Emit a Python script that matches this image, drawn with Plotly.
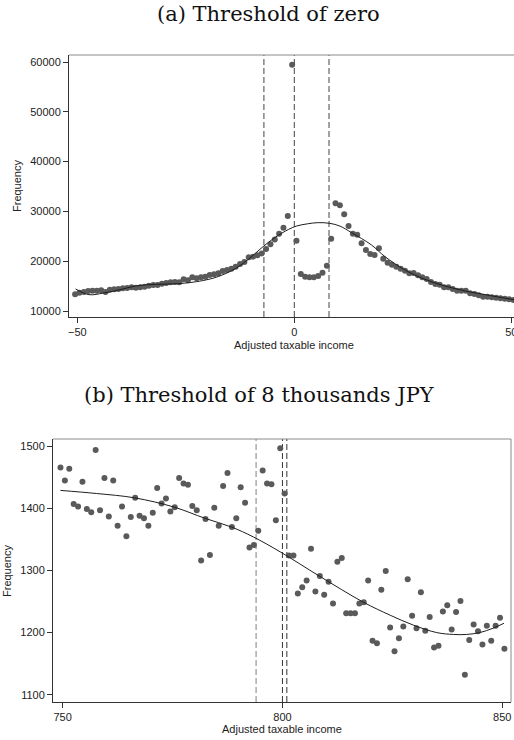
import plotly.graph_objects as go

# ---------------- Data: panel (a) ----------------
top_bins = [-50.5 + i for i in range(102)]
top_freq = [13350, 13680, 13820, 14020, 14080, 14080, 14150, 13820, 14280, 14350,
            14420, 14550, 14620, 14750, 14680, 14750, 14890, 15090, 15220, 15220,
            15490, 15620, 15760, 15820, 15760, 16360, 16160, 16760, 16560, 16760,
            16890, 17220, 17360, 17560, 18030, 18230, 18500, 18900, 19430, 19830,
            20770, 20900, 21170, 21570, 22440, 23380, 24380, 25520, 26730, 29070,
            59460, 24120,
            17430, 16890, 16760, 16760, 17030, 17700, 19100, 24520, 31620, 31220,
            29410, 27070, 25530, 25330, 23590, 22250, 21450, 21240, 22580, 20510,
            19710, 19300, 18900, 18500, 18100, 17560, 17630, 17160, 16760, 16430,
            15820, 15420, 15290, 14750, 14750, 14420, 14080, 14080, 14080, 13550,
            13410, 13150, 12880, 12880, 12740, 12680, 12540, 12480, 12340, 12210]
top_fit_x = [-50.4, -47.3, -44.0, -40.4, -36.6, -32.0, -26.6, -21.2, -17.4, -13.6,
             -10.5, -7.4, -4.4, -1.3, 0.55, 3.0, 5.5, 8.2, 10.5, 13.2, 17.8, 20.9,
             25.5, 30.1, 34.7, 39.4, 44.0, 50.9]
top_fit_y = [14420, 13280, 13600, 14220, 15020, 15360, 15490, 16090, 16960, 18500,
             20440, 22780, 24790, 26400, 27070, 27500, 27740, 27600, 27050, 25730,
             23250, 20910, 18230, 16360, 15020, 14020, 13280, 12210]
top_cuts = [-7, 0, 8]
top_xticks = [-50, 0, 50]
top_yticks = [10000, 20000, 30000, 40000, 50000, 60000]

# ---------------- Data: panel (b) ----------------
bot_bins = [749.5 + i for i in range(102)]
bot_freq = [1466, 1445, 1464, 1407, 1403, 1443, 1399, 1394, 1494, 1397,
            1449, 1387, 1445, 1372, 1403, 1355, 1386, 1417, 1388, 1384,
            1372, 1393, 1433, 1408, 1416, 1395, 1402, 1449, 1440, 1438,
            1404, 1397, 1316, 1383, 1325, 1401, 1372, 1436, 1457, 1370,
            1384, 1434, 1409, 1337, 1341, 1364, 1461, 1440, 1439, 1381,
            1497, 1424,
            1324, 1324, 1263, 1273, 1284, 1335, 1266, 1291, 1261, 1282,
            1247, 1314, 1320, 1231, 1231, 1231, 1247, 1249, 1284, 1187,
            1183, 1269, 1299, 1208, 1170, 1191, 1210, 1286, 1227, 1207,
            1265, 1203, 1225, 1176, 1179, 1234, 1244, 1205, 1233, 1251,
            1132, 1188, 1213, 1202, 1181, 1211, 1187, 1211, 1224, 1174]
bot_fit_x = [749.5, 757.7, 766.4, 775.4, 782.4, 788.4, 793.4, 799.5, 808.4, 818.4,
             824.5, 829.8, 835.1, 838.9, 841.9, 844.9, 847.9, 850.4]
bot_fit_y = [1429, 1424, 1417, 1402, 1384, 1370, 1354, 1330, 1291, 1249,
             1228, 1212, 1200, 1197, 1197, 1200, 1207, 1215]
bot_cuts = [794, 800, 801]
bot_cut_colors = ["#808080", "#333333", "#333333"]
bot_xticks = [750, 800, 850]
bot_yticks = [1100, 1200, 1300, 1400, 1500]

W, H = 514, 740
DOT = "#5a5a5a"
AX = "#333333"
FRAME = "#8a8a8a"

fig = go.Figure()
fig.add_trace(go.Scatter(x=top_bins, y=top_freq, mode="markers",
                         marker=dict(size=6, color=DOT), xaxis="x", yaxis="y"))
fig.add_trace(go.Scatter(x=top_fit_x, y=top_fit_y, mode="lines",
                         line=dict(color="#1e1e1e", width=1, shape="spline"),
                         xaxis="x", yaxis="y"))
fig.add_trace(go.Scatter(x=bot_bins, y=bot_freq, mode="markers",
                         marker=dict(size=6, color=DOT), xaxis="x2", yaxis="y2"))
fig.add_trace(go.Scatter(x=bot_fit_x, y=bot_fit_y, mode="lines",
                         line=dict(color="#1e1e1e", width=1, shape="spline"),
                         xaxis="x2", yaxis="y2"))

axis_common = dict(showgrid=False, zeroline=False, showline=True, linecolor=AX,
                   linewidth=1, ticks="outside", ticklen=5, tickcolor=AX,
                   tickwidth=1, automargin=False,
                   tickfont=dict(family="Liberation Sans, Arial", size=11, color="#222"))

fig.update_layout(
    width=W, height=H,
    margin=dict(l=0, r=0, t=0, b=0),
    paper_bgcolor="white", plot_bgcolor="white",
    showlegend=False,
    font=dict(family="Liberation Sans, Arial", size=11, color="#222"),
    xaxis=dict(domain=[69 / W, 1.0], range=[-51.91, 50.62], tickvals=top_xticks,
               anchor="y", ticklabeloverflow="allow", **axis_common),
    yaxis=dict(domain=[(H - 317) / H, (H - 55) / H], range=[8795, 61406],
               tickvals=top_yticks, tickformat="d", anchor="x", **axis_common),
    xaxis2=dict(domain=[53 / W, 511 / W], range=[747.8, 852.0], tickvals=bot_xticks,
                anchor="y2", **axis_common),
    yaxis2=dict(domain=[(H - 702) / H, (H - 439) / H], range=[1088.2, 1511.8],
                tickvals=bot_yticks, tickformat="d", anchor="x2", **axis_common),
)

shapes = []
for v in top_cuts:
    shapes.append(dict(type="line", xref="x", yref="y domain", x0=v, x1=v, y0=0, y1=1,
                       line=dict(color="#444444", width=1, dash="6px,3px"), layer="below"))
for v, c in zip(bot_cuts, bot_cut_colors):
    shapes.append(dict(type="line", xref="x2", yref="y2 domain", x0=v, x1=v, y0=0, y1=1,
                       line=dict(color=c, width=1, dash="6px,3px"), layer="below"))
# light frame lines (top of panel a, top & right of panel b)
shapes.append(dict(type="line", xref="x domain", yref="y domain", x0=0, x1=1, y0=1, y1=1,
                   line=dict(color=FRAME, width=1)))
shapes.append(dict(type="line", xref="x2 domain", yref="y2 domain", x0=0, x1=1, y0=1, y1=1,
                   line=dict(color=FRAME, width=1)))
shapes.append(dict(type="line", xref="x2 domain", yref="y2 domain", x0=1, x1=1, y0=0, y1=1,
                   line=dict(color=FRAME, width=1)))
fig.update_layout(shapes=shapes)

serif = dict(family="DejaVu Serif, Liberation Serif, serif", size=21, color="#111")
sans = dict(family="Liberation Sans, Arial", size=11, color="#222")
annotations = [
    dict(text="(a) Threshold of zero", x=268.5 / W, y=1 - 14 / H, font=serif),
    dict(text="(b) Threshold of 8 thousands JPY", x=259.4 / W, y=1 - 395 / H, font=serif),
    dict(text="Adjusted taxable income", x=294 / W, y=1 - 345 / H, font=sans),
    dict(text="Adjusted taxable income", x=282.2 / W, y=1 - 729 / H, font=sans),
    dict(text="Frequency", x=17 / W, y=1 - 186 / H, font=sans, textangle=-90),
    dict(text="Frequency", x=7 / W, y=1 - 571 / H, font=sans, textangle=-90),
]
for a in annotations:
    a.update(xref="paper", yref="paper", xanchor="center", yanchor="middle",
             showarrow=False)
fig.update_layout(annotations=annotations)

fig.write_html(
    "out.html",
    config={"displayModeBar": False},
    post_script="document.body.style.margin='0px';document.body.style.overflow='hidden';",
)
